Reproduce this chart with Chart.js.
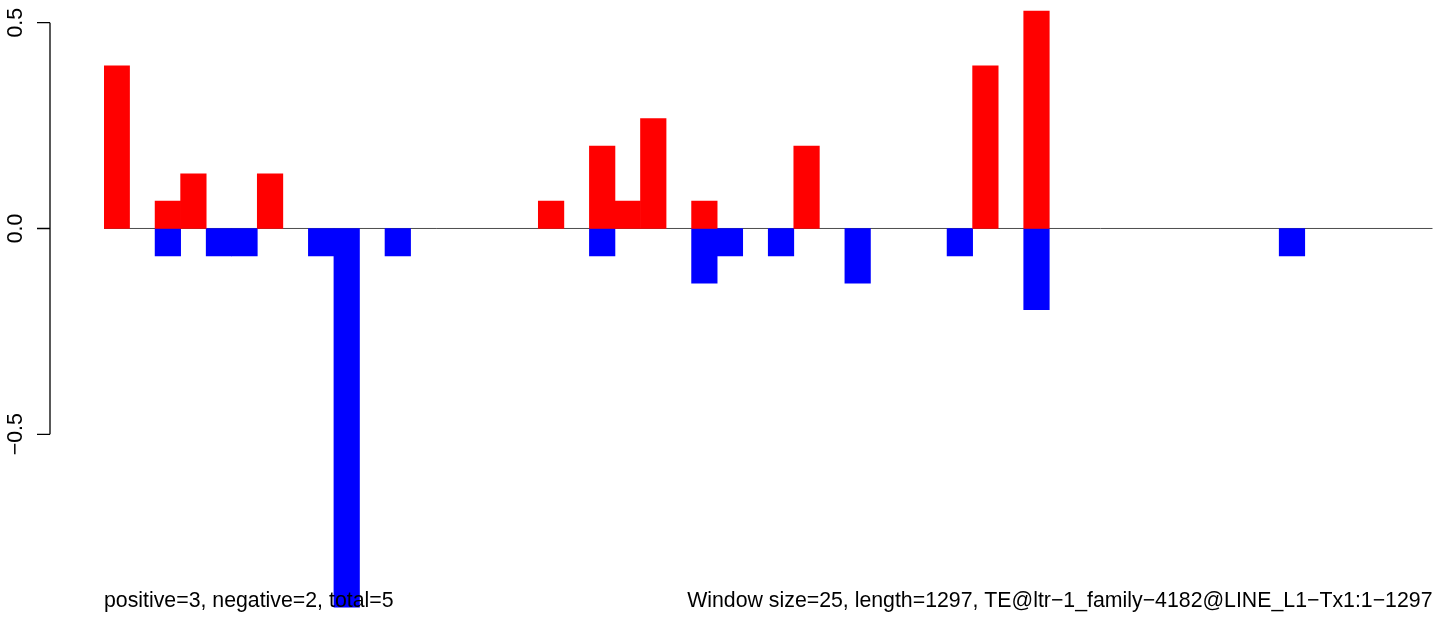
<!DOCTYPE html>
<html>
<head>
<meta charset="utf-8">
<script src="https://cdn.jsdelivr.net/npm/chart.js@4/dist/chart.umd.min.js"></script>
<style>
  html, body { margin: 0; padding: 0; background: #fff; }
  canvas { display: block; }
</style>
</head>
<body>
<canvas id="chart" width="1444" height="617"></canvas>
<script>
// ventanas de 25 pb sobre la secuencia de 1297 pb
const windowSize = 25;
const seqLength = 1297;
const windows = [];
for (let s = 1; s <= seqLength; s += windowSize) {
    windows.push(s + '-' + Math.min(s + windowSize - 1, seqLength));
}

// valores positivos (rojo) y negativos (azul) por ventana
const positiveValues = [
    0.395, null, 0.0667, 0.133, null, null, 0.133, null, null, null,
    null, null, null, null, null, null, null, 0.0667, null, 0.2,
    0.0667, 0.267, null, 0.0667, null, null, null, 0.2, null, null,
    null, null, null, null, 0.395, null, 0.528, null, null, null,
    null, null, null, null, null, null, null, null, null, null,
    null, null
];
const negativeValues = [
    null, null, -0.0667, null, -0.0667, -0.0667, null, null, -0.0667, -0.92,
    null, -0.0667, null, null, null, null, null, null, null, -0.0667,
    null, null, null, -0.133, -0.0667, null, -0.0667, null, null, -0.133,
    null, null, null, -0.0667, null, null, -0.197, null, null, null,
    null, null, null, null, null, null, -0.0667, null, null, null,
    null, null
];

// marcas del eje y
const yTicks = [-0.5, 0, 0.5];
const yTickLabels = ['\u22120.5', '0.0', '0.5'];

const leftText = 'positive=3, negative=2, total=5';
const rightText = 'Window size=25, length=1297, TE@ltr\u22121_family\u22124182@LINE_L1\u2212Tx1:1\u22121297';

const FONT = '21.3px "Liberation Sans", Arial, sans-serif';

// eje estilo R + línea del cero + textos inferiores
const rAxisPlugin = {
    id: 'rAxis',
    beforeDatasetsDraw(chart) {
        const ctx = chart.ctx;
        const area = chart.chartArea;
        const y0 = chart.scales.y.getPixelForValue(0);
        ctx.save();
        ctx.strokeStyle = '#4d4d4d';
        ctx.lineWidth = 1;
        ctx.beginPath();
        ctx.moveTo(area.left, y0);
        ctx.lineTo(area.right, y0);
        ctx.stroke();
        ctx.restore();
    },
    afterDraw(chart) {
        const ctx = chart.ctx;
        const area = chart.chartArea;
        const y = chart.scales.y;
        const axisX = 50;
        const top = y.getPixelForValue(Math.max(...yTicks));
        const bottom = y.getPixelForValue(Math.min(...yTicks));

        ctx.save();
        ctx.strokeStyle = '#000';
        ctx.lineWidth = 1.3;
        ctx.beginPath();
        ctx.moveTo(axisX, top);
        ctx.lineTo(axisX, bottom);
        yTicks.forEach(t => {
            const py = y.getPixelForValue(t);
            ctx.moveTo(axisX, py);
            ctx.lineTo(axisX - 13, py);
        });
        ctx.stroke();

        ctx.fillStyle = '#000';
        ctx.font = FONT;
        ctx.textAlign = 'center';
        ctx.textBaseline = 'alphabetic';
        yTicks.forEach((t, i) => {
            const py = y.getPixelForValue(t);
            ctx.save();
            ctx.translate(22, py);
            ctx.rotate(-Math.PI / 2);
            ctx.fillText(yTickLabels[i], 0, 0);
            ctx.restore();
        });

        ctx.textAlign = 'left';
        ctx.fillText(leftText, area.left, 607);
        ctx.textAlign = 'right';
        ctx.fillText(rightText, area.right, 607);
        ctx.restore();
    }
};

new Chart(document.getElementById('chart'), {
    type: 'bar',
    data: {
        labels: windows,
        datasets: [
            {
                label: 'positive',
                data: positiveValues,
                backgroundColor: '#ff0000',
                borderWidth: 0
            },
            {
                label: 'negative',
                data: negativeValues,
                backgroundColor: '#0000ff',
                borderWidth: 0
            }
        ]
    },
    options: {
        responsive: false,
        animation: false,
        devicePixelRatio: 1,
        layout: { padding: { left: 104, right: 11.5, top: 0, bottom: 0 } },
        datasets: {
            bar: { barPercentage: 1, categoryPercentage: 1 }
        },
        scales: {
            x: { stacked: true, display: false },
            y: { stacked: true, display: false, min: -0.9439, max: 0.5551 }
        },
        plugins: {
            legend: { display: false },
            tooltip: { enabled: false }
        }
    },
    plugins: [rAxisPlugin]
});
</script>
</body>
</html>
